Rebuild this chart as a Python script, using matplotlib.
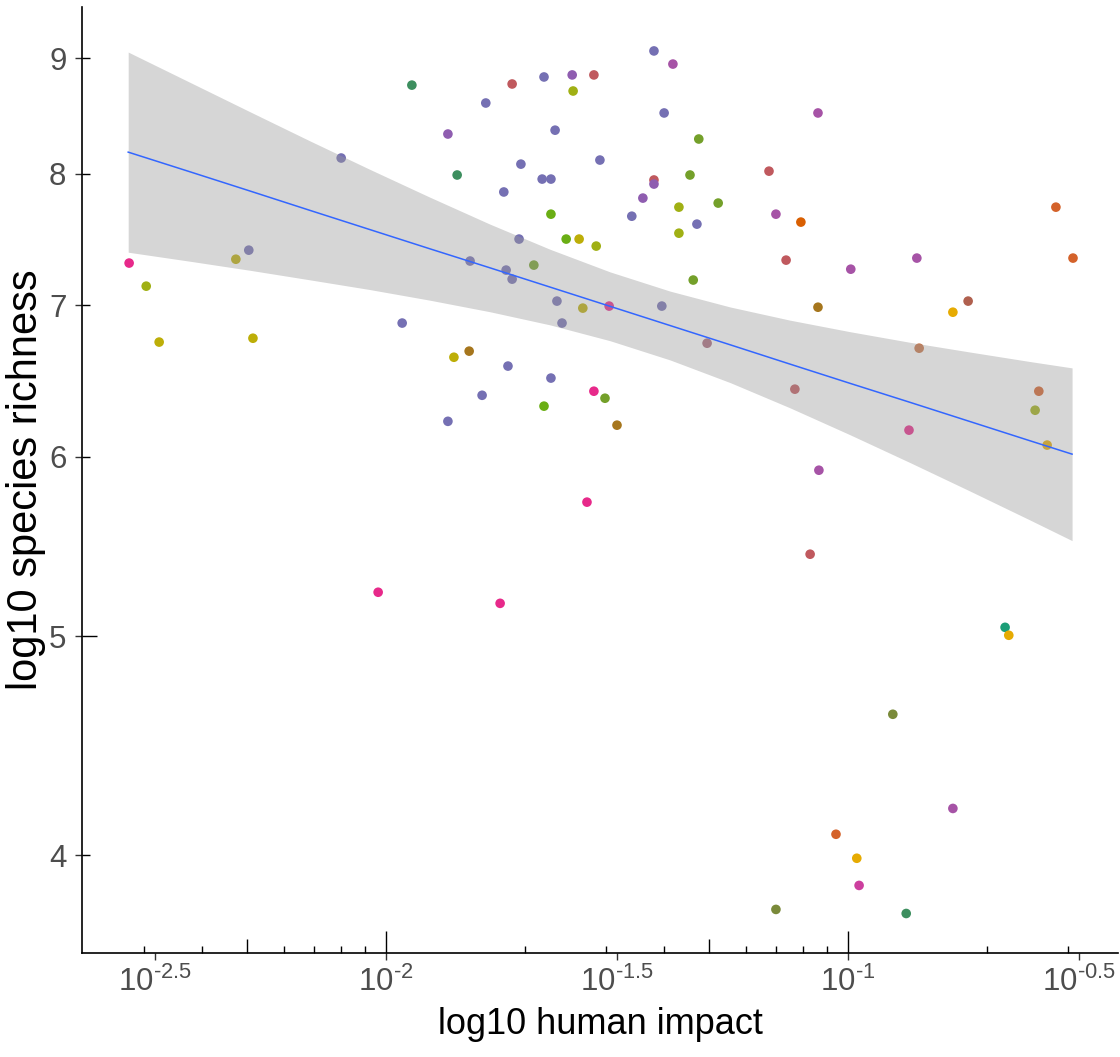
import numpy as np
import matplotlib.pyplot as plt
from matplotlib.ticker import NullLocator

plt.rcParams['font.family'] = ['Liberation Sans', 'DejaVu Sans']

# points: log10 human impact, log10 species richness
log_impact = [-2.556, -2.519, -2.491, -2.325, -2.297, -2.288, -2.097, -1.944, -1.866, -1.846,
              -1.784, -1.965, -1.818, -1.820, -1.727, -1.658, -1.597, -1.550, -1.595, -1.420,
              -1.379, -1.398, -1.634, -1.323, -1.708, -1.537, -1.662, -1.643, -1.420, -1.420,
              -1.342, -1.745, -1.444, -1.366, -1.281, -1.643, -1.468, -1.327, -1.366, -1.610,
              -1.582, -1.545, -1.712, -1.740, -1.680, -1.727, -1.335, -1.630, -1.574, -1.517,
              -1.403, -1.619, -1.305, -1.853, -1.736, -1.643, -1.065, -1.171, -1.156, -1.102,
              -0.550, -1.134, -0.994, -0.851, -0.513, -0.740, -0.773, -1.065, -0.846, -1.115,
              -0.587, -0.595, -0.868, -0.569, -1.063, -1.792, -1.550, -1.526, -1.658, -1.866,
              -1.500, -1.565, -2.017, -1.753, -1.082, -0.660, -0.652, -0.903, -0.773, -1.026,
              -0.981, -0.976, -1.156, -0.874]
log_richness = [0.8637, 0.8535, 0.8288, 0.8654, 0.8694, 0.8305, 0.9101, 0.9423, 0.9207, 0.9026,
                0.9344, 0.8372, 0.8646, 0.8248, 0.9428, 0.9459, 0.9468, 0.9468, 0.9397, 0.9574,
                0.9516, 0.9300, 0.9224, 0.9185, 0.9074, 0.9092, 0.9008, 0.9008, 0.9004, 0.8986,
                0.9026, 0.8951, 0.8924, 0.8884, 0.8902, 0.8853, 0.8844, 0.8809, 0.8769, 0.8743,
                0.8743, 0.8712, 0.8743, 0.8606, 0.8628, 0.8566, 0.8562, 0.8469, 0.8438, 0.8447,
                0.8447, 0.8372, 0.8283, 0.8221, 0.8182, 0.8129, 0.9300, 0.9043, 0.8853, 0.8818,
                0.8884, 0.8650, 0.8610, 0.8659, 0.8659, 0.8469, 0.8420, 0.8442, 0.8261, 0.8080,
                0.8071, 0.7987, 0.7899, 0.7833, 0.7722, 0.8053, 0.8071, 0.8040, 0.8005, 0.7938,
                0.7921, 0.7581, 0.7183, 0.7134, 0.7351, 0.7028, 0.6993, 0.6644, 0.6228, 0.6114,
                0.6008, 0.5888, 0.5782, 0.5764]
point_colors = ['#E7298A', '#A0B014', '#BDAE08', '#BDAE08', '#7570B3', '#BDAE08', '#7570B3', '#3D8F5F', '#8F5DB0', '#3D8F5F',
                '#7570B3', '#7570B3', '#7570B3', '#A6761D', '#C0595E', '#7570B3', '#8F5DB0', '#C0595E', '#A0B014', '#7570B3',
                '#A653A6', '#7570B3', '#7570B3', '#74A02A', '#7570B3', '#7570B3', '#7570B3', '#7570B3', '#C0595E', '#8F5DB0',
                '#74A02A', '#7570B3', '#8F5DB0', '#A0B014', '#74A02A', '#6AAE14', '#7570B3', '#7570B3', '#A0B014', '#6AAE14',
                '#BDAE08', '#A0B014', '#7570B3', '#7570B3', '#74A02A', '#7570B3', '#74A02A', '#7570B3', '#BDAE08', '#E7298A',
                '#7570B3', '#7570B3', '#A86A7C', '#BDAE08', '#7570B3', '#7570B3', '#A653A6', '#C0595E', '#A653A6', '#D95F02',
                '#D4622A', '#C0595E', '#A653A6', '#A653A6', '#D4622A', '#B0604E', '#E6AB02', '#A6761D', '#C87548', '#C0595E',
                '#D4622A', '#A0B014', '#E7298A', '#E6AB02', '#A653A6', '#7570B3', '#E7298A', '#74A02A', '#6AAE14', '#7570B3',
                '#A6761D', '#E7298A', '#E7298A', '#E7298A', '#C0595E', '#1B9E77', '#E6AB02', '#7A8A3A', '#A653A6', '#D4622A',
                '#E6AB02', '#CC3F9E', '#7A8A3A', '#3D8F5F']

# lm smoother with its confidence band (log10 values)
smooth_log_impact = [-2.558, -2.424, -2.294, -2.165, -2.035, -1.905, -1.775, -1.645, -1.515,
                     -1.385, -1.255, -1.126, -0.996, -0.866, -0.736, -0.606, -0.515]
smooth_fit = [0.9127, 0.9040, 0.8955, 0.8870, 0.8785, 0.8700, 0.8616, 0.8531, 0.8446,
              0.8361, 0.8276, 0.8191, 0.8106, 0.8022, 0.7937, 0.7852, 0.7793]
smooth_upper = [0.9569, 0.9435, 0.9305, 0.9177, 0.9051, 0.8928, 0.8809, 0.8698, 0.8598,
                0.8513, 0.8443, 0.8385, 0.8334, 0.8287, 0.8244, 0.8202, 0.8174]
smooth_lower = [0.8685, 0.8645, 0.8605, 0.8563, 0.8520, 0.8473, 0.8422, 0.8364, 0.8294,
                0.8209, 0.8109, 0.7998, 0.7879, 0.7756, 0.7630, 0.7502, 0.7411]

x_breaks = [-2.5, -2, -1.5, -1, -0.5]
y_breaks = [4, 5, 6, 7, 8, 9]

fig = plt.figure(figsize=(11.2, 10.57), dpi=100)
ax = fig.add_axes([82 / 1120, 104 / 1057, 1036 / 1120, 946 / 1057])

ax.scatter(10 ** np.array(log_impact), 10 ** np.array(log_richness),
           s=48, c=point_colors, linewidths=0, zorder=2)

sx = 10 ** np.array(smooth_log_impact)
ax.fill_between(sx, 10 ** np.array(smooth_lower), 10 ** np.array(smooth_upper),
                color='#999999', alpha=0.4, linewidth=0, zorder=3)
ax.plot(sx, 10 ** np.array(smooth_fit), color='#3366FF', lw=1.1, zorder=4)

ax.set_xscale('log')
ax.set_yscale('log')
ax.set_xlim(10 ** -2.658, 10 ** -0.4156)
ax.set_ylim(3.622, 9.48)

# superscript labels like 10^-2.5, with a plain hyphen for the sign
x_labels = ['$\\mathregular{10^{%s}}$' % ('%g' % b).replace('-', '\u2010') for b in x_breaks]
ax.set_xticks([10 ** b for b in x_breaks], labels=x_labels)
ax.set_yticks(y_breaks, labels=[str(b) for b in y_breaks])
ax.xaxis.set_minor_locator(NullLocator())
ax.yaxis.set_minor_locator(NullLocator())
ax.tick_params(which='major', direction='out', length=5.2, width=1.0, color='#333333',
               labelsize=22.5, labelcolor='#4D4D4D')
ax.tick_params(axis='x', pad=5)
ax.tick_params(axis='y', pad=6)

for side in ['top', 'right']:
    ax.spines[side].set_visible(False)
for side in ['left', 'bottom']:
    ax.spines[side].set_linewidth(1.2)

# annotation_logticks style marks inside the panel
x_lo, x_hi = ax.get_xlim()
y_lo, y_hi = ax.get_ylim()
x_short = [m * 10.0 ** e for e in (-3, -2, -1) for m in (2, 3, 4, 6, 7, 8, 9)]
x_mid = [5 * 10.0 ** e for e in (-3, -2, -1)]
x_long = [10.0 ** e for e in (-2, -1)]
y_short = [4, 6, 7, 8, 9]
y_mid = [5]


def logticks(axis, locs, length):
    if axis == 'x':
        sec = ax.secondary_xaxis('bottom')
        lim = (x_lo, x_hi)
        sub = sec.xaxis
    else:
        sec = ax.secondary_yaxis('left')
        lim = (y_lo, y_hi)
        sub = sec.yaxis
    locs = [v for v in locs if lim[0] <= v <= lim[1]]
    sec.set_ticks(locs, labels=[''] * len(locs))
    sub.set_minor_locator(NullLocator())
    sec.tick_params(direction='in', length=length, width=1.0, color='black')
    for sp in sec.spines.values():
        sp.set_visible(False)


logticks('x', x_short, 5.2)
logticks('x', x_mid, 10.4)
logticks('x', x_long, 15.5)
logticks('y', y_short, 5.6)
logticks('y', y_mid, 11)

ax.set_xlabel('log10 human impact', fontsize=26, labelpad=6)
ax.set_ylabel('log10 species richness', fontsize=30, labelpad=2)

fig.savefig('out.png', dpi=100)
